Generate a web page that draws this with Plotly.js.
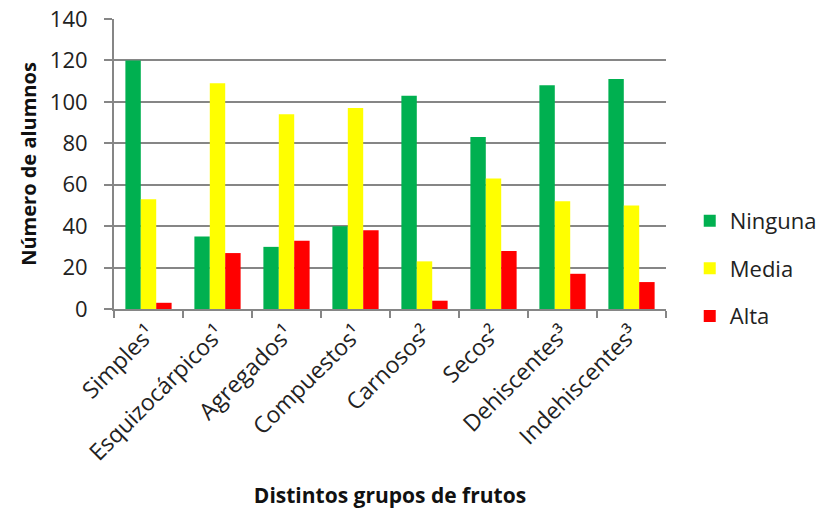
<!DOCTYPE html>
<html>
<head>
<meta charset="utf-8">
<script src="https://cdn.plot.ly/plotly-3.0.1.min.js"></script>
<style>
  html, body { margin: 0; padding: 0; background: #fff; }
  #chart { width: 822px; height: 518px; }
</style>
</head>
<body>
<div id="chart"></div>
<script>
// Fruit groups and student counts per level
const categories = ["Simples¹", "Esquizocárpicos¹", "Agregados¹", "Compuestos¹",
                    "Carnosos²", "Secos²", "Dehiscentes³", "Indehiscentes³"];
const ninguna = [120, 35, 30, 40, 103, 83, 108, 111];
const media   = [53, 109, 94, 97, 23, 63, 52, 50];
const alta    = [3, 27, 33, 38, 4, 28, 17, 13];
const yTicks  = [0, 20, 40, 60, 80, 100, 120, 140];

const FONT = "Open Sans, Liberation Sans, sans-serif";

function series(name, values, color, group) {
  return {
    type: "bar", name: name, x: categories, y: values,
    marker: { color: color, line: { width: 0 } },
    legendgroup: group, hoverinfo: "y"
  };
}

const data = [
  series("Ninguna", ninguna, "#00b050", "a"),
  series("Media", media, "#ffff00", "b"),
  series("Alta", alta, "#ff0000", "c")
];

const layout = {
  width: 822, height: 518,
  margin: { l: 114, r: 156, t: 19, b: 209, autoexpand: false },
  paper_bgcolor: "#ffffff", plot_bgcolor: "#ffffff",
  barmode: "group", bargap: 0.33, bargroupgap: 0,
  font: { family: FONT, color: "#222" },
  xaxis: {
    type: "category",
    tickangle: -45,
    tickfont: { size: 23, color: "#222" },
    ticks: "outside", tickson: "boundaries", ticklen: 7,
    tickcolor: "#868686", tickwidth: 2,
    showline: true, linecolor: "#868686", linewidth: 2,
    showgrid: false,
    title: { text: "<b>Distintos grupos de frutos</b>", font: { size: 21, color: "#111" }, standoff: 22 }
  },
  yaxis: {
    range: [0, 140],
    tickvals: yTicks,
    tickfont: { size: 22, color: "#222" },
    ticks: "outside", ticklen: 8, tickcolor: "#868686", tickwidth: 2,
    ticklabelstandoff: 12,
    showline: true, linecolor: "#868686", linewidth: 2,
    showgrid: true, gridcolor: "#868686", gridwidth: 2,
    zeroline: false,
    title: { text: "<b>Número de alumnos</b>", font: { size: 20, color: "#111" }, standoff: 8 }
  },
  legend: {
    x: 1.043, xanchor: "left", y: 0.14, yanchor: "middle",
    font: { size: 22, color: "#222" },
    tracegroupgap: 16, bgcolor: "rgba(0,0,0,0)"
  },
  showlegend: true
};

Plotly.newPlot("chart", data, layout, { displayModeBar: false, staticPlot: true });
</script>
</body>
</html>
